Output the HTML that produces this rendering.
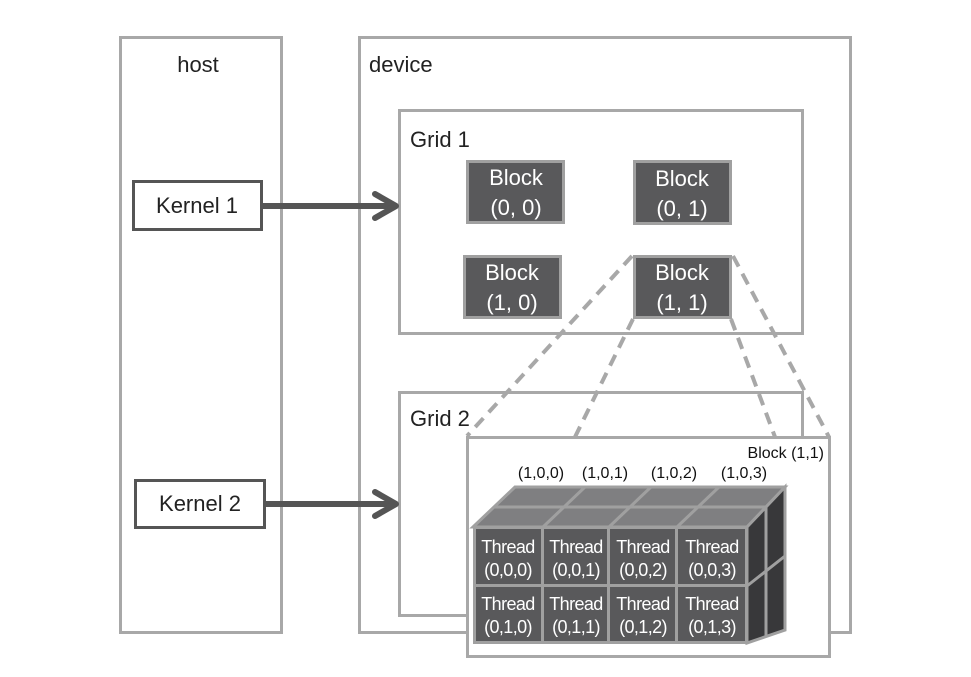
<!DOCTYPE html>
<html><head><meta charset="utf-8"><style>
html,body{margin:0;padding:0;background:#fff;}
svg{display:block;font-family:"Liberation Sans",Arial,sans-serif;}
</style></head><body>
<svg width="971" height="677" viewBox="0 0 971 677" xmlns="http://www.w3.org/2000/svg">
<rect width="971" height="677" fill="#fff"/>
<rect x="120.5" y="37.5" width="161" height="595" fill="#fff" stroke="#a8a8a8" stroke-width="3"/>
<text x="198" y="72" font-size="22" text-anchor="middle" fill="#222">host</text>
<rect x="359.5" y="37.5" width="491" height="595" fill="#fff" stroke="#a8a8a8" stroke-width="3"/>
<text x="369" y="72" font-size="22" fill="#222">device</text>
<rect x="399.5" y="110.5" width="403" height="223" fill="#fff" stroke="#a8a8a8" stroke-width="3"/>
<text x="410" y="147" font-size="22" fill="#222">Grid 1</text>
<g fill="#59595b" stroke="#a0a0a0" stroke-width="3">
<rect x="467.5" y="161.5" width="96" height="61"/>
<rect x="634.5" y="161.5" width="96" height="62"/>
<rect x="464.5" y="256.5" width="96" height="61"/>
<rect x="634.5" y="256.5" width="96" height="61"/>
</g>
<g fill="#fff" font-size="22" text-anchor="middle">
<text x="516" y="185">Block</text><text x="516" y="215">(0, 0)</text>
<text x="682" y="186">Block</text><text x="682" y="216">(0, 1)</text>
<text x="512" y="280">Block</text><text x="512" y="310">(1, 0)</text>
<text x="682" y="280">Block</text><text x="682" y="310">(1, 1)</text>
</g>
<rect x="399.5" y="392.5" width="403" height="223" fill="#fff" stroke="#a8a8a8" stroke-width="3"/>
<text x="410" y="426" font-size="22" fill="#222">Grid 2</text>
<g stroke="#a8a8a8" stroke-width="4" stroke-dasharray="12,8" fill="none">
<line x1="632" y1="256" x2="467" y2="436"/>
<line x1="633" y1="319" x2="575" y2="437"/>
<line x1="731" y1="319" x2="775" y2="437"/>
<line x1="733" y1="256" x2="829" y2="437"/>
</g>
<rect x="467.5" y="437.5" width="362" height="219" fill="#fff" stroke="#a8a8a8" stroke-width="3"/>
<text x="824" y="458" font-size="16" text-anchor="end" fill="#111">Block (1,1)</text>
<g font-size="16" fill="#111" text-anchor="middle">
<text x="541" y="478">(1,0,0)</text><text x="605" y="478">(1,0,1)</text>
<text x="674" y="478">(1,0,2)</text><text x="744" y="478">(1,0,3)</text>
</g>
<polygon points="473,527 515,487 785,487 747,527" fill="#7f7f81" stroke="#a0a0a0" stroke-width="3"/>
<g stroke="#a0a0a0" stroke-width="3">
<line x1="494" y1="507" x2="766" y2="507"/>
<line x1="543" y1="527" x2="585" y2="487"/>
<line x1="609" y1="527" x2="651" y2="487"/>
<line x1="677" y1="527" x2="719" y2="487"/>
</g>
<polygon points="747,527 785,487 785,630 747,643" fill="#38383a" stroke="#a0a0a0" stroke-width="3"/>
<g stroke="#a0a0a0" stroke-width="3">
<line x1="766" y1="507" x2="766" y2="637"/>
<line x1="747" y1="586" x2="785" y2="556"/>
</g>
<g fill="#59595b" stroke="#a0a0a0" stroke-width="3">
<rect x="474.5" y="527.5" width="68" height="58"/>
<rect x="542.5" y="527.5" width="66" height="58"/>
<rect x="608.5" y="527.5" width="68" height="58"/>
<rect x="676.5" y="527.5" width="70" height="58"/>
<rect x="474.5" y="585.5" width="68" height="57"/>
<rect x="542.5" y="585.5" width="66" height="57"/>
<rect x="608.5" y="585.5" width="68" height="57"/>
<rect x="676.5" y="585.5" width="70" height="57"/>
</g>
<g fill="#fff" font-size="18" text-anchor="middle" letter-spacing="-0.6">
<text x="508" y="553">Thread</text><text x="508" y="576">(0,0,0)</text>
<text x="576" y="553">Thread</text><text x="576" y="576">(0,0,1)</text>
<text x="643" y="553">Thread</text><text x="643" y="576">(0,0,2)</text>
<text x="712" y="553">Thread</text><text x="712" y="576">(0,0,3)</text>
<text x="508" y="610">Thread</text><text x="508" y="633">(0,1,0)</text>
<text x="576" y="610">Thread</text><text x="576" y="633">(0,1,1)</text>
<text x="643" y="610">Thread</text><text x="643" y="633">(0,1,2)</text>
<text x="712" y="610">Thread</text><text x="712" y="633">(0,1,3)</text>
</g>
<rect x="133.5" y="181.5" width="128" height="48" fill="#fff" stroke="#555" stroke-width="3"/>
<text x="197" y="213" font-size="22" text-anchor="middle" fill="#222">Kernel 1</text>
<rect x="135.5" y="480.5" width="129" height="47" fill="#fff" stroke="#555" stroke-width="3"/>
<text x="200" y="511" font-size="22" text-anchor="middle" fill="#222">Kernel 2</text>
<g stroke="#555" stroke-width="6" fill="none" stroke-linecap="round" stroke-linejoin="round">
<line x1="263" y1="206" x2="394" y2="206"/>
<polyline points="375,194 396,206 375,218"/>
<line x1="266" y1="504" x2="394" y2="504"/>
<polyline points="375,492 396,504 375,516"/>
</g>
</svg>
</body></html>
